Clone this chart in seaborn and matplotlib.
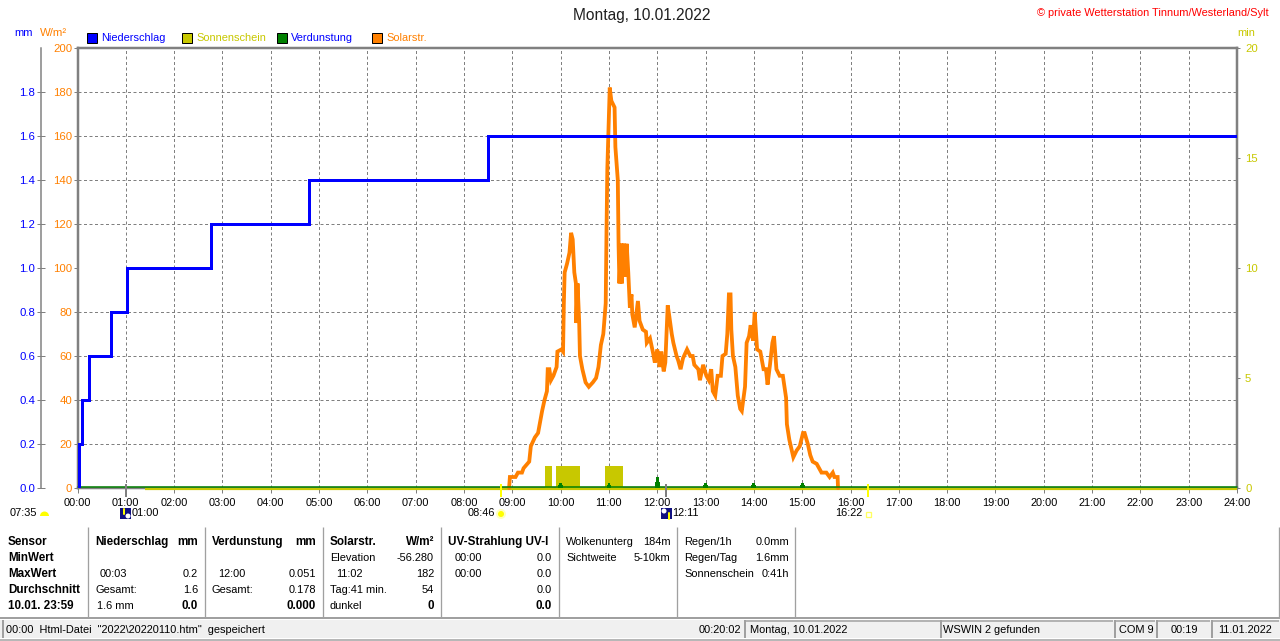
import matplotlib
matplotlib.use('Agg')
import matplotlib.pyplot as plt
from matplotlib.patches import Rectangle, Circle, Wedge
from matplotlib.transforms import ScaledTranslation
import seaborn as sns

# all times are minutes after midnight
hour_labels = [f'{h:02d}:00' for h in range(25)]
solar_ticks = [0, 20, 40, 60, 80, 100, 120, 140, 160, 180, 200]
rain_ticks = [0.0, 0.2, 0.4, 0.6, 0.8, 1.0, 1.2, 1.4, 1.6, 1.8]
sun_ticks = [0, 5, 10, 15, 20]

rain_time = [0, 2, 6, 14, 42, 62, 166, 287, 510, 1440]
rain_mm = [0.0, 0.2, 0.4, 0.6, 0.8, 1.0, 1.2, 1.4, 1.6, 1.6]

solar_time = [536, 537, 544, 547, 552, 554, 561, 563, 568, 572, 574, 577, 580, 583, 584, 586,
              588, 591, 595, 596, 601, 603, 604, 605, 608, 611, 613, 615, 617, 619, 619.5, 621,
              623, 624, 627, 631, 635, 640, 644, 647, 650, 653, 656, 657, 658, 660, 661, 663,
              667, 668, 671, 672, 673, 675, 676, 677, 678, 679, 681, 682, 684, 686, 688, 689,
              692, 696, 698, 702,
              706, 707, 711, 715, 717, 720, 723, 725, 728, 730, 733, 735, 738, 740, 744, 746,
              749, 752, 757, 761, 764, 766, 771, 773, 777, 781, 784, 787, 789, 792, 795, 799,
              801, 805, 807, 809, 811, 812, 814, 817, 820, 823, 825, 829, 831, 834, 836, 839,
              841, 844, 848, 852, 855, 857, 860, 863, 865, 868, 872, 876, 880, 881, 884, 889,
              893, 897, 901, 903, 907, 910, 913, 918, 924, 930, 934, 938, 940, 944, 944.5]
solar_wm2 = [0, 5, 5, 7, 7, 9, 12, 19, 23, 25, 29, 35, 40, 44, 54, 54,
             49, 51, 55, 62, 63, 62, 84, 98, 102, 107, 116, 113, 98, 93, 75, 93,
             76, 60, 54, 48, 46, 48, 50, 55, 65, 70, 84, 117, 145, 170, 182, 176,
             173, 155, 140, 110, 93, 111, 93, 111, 96, 111, 96, 111, 98, 82, 88, 79,
             73, 85, 76, 72,
             71, 66, 68, 61, 57, 63, 55, 62, 53, 57, 83, 78, 70, 66, 60, 58,
             54, 59, 63, 60, 60, 56, 54, 49, 56, 51, 49, 54, 44, 42, 51, 51,
             60, 61, 70, 88, 88, 72, 60, 55, 42, 36, 35, 46, 66, 69, 74, 67,
             80, 63, 62, 54, 54, 47, 56, 66, 69, 54, 51, 51, 41, 29, 22, 14,
             17, 19, 25, 25, 20, 15, 12, 11, 7, 7, 5, 7, 5, 5, 0]

sun_start = [580, 594, 655]
sun_end = [589, 624, 678]
sun_minutes = [1, 1, 1]
sun_base_time = [84, 1440]
sun_base = [0, 0]

evap_time = [600, 660, 720, 780, 840, 900]
evap_mm = [0.025, 0.025, 0.051, 0.025, 0.025, 0.025]
evap_base_time = [0, 1440]
evap_base = [0, 0]

# sunrise/sunset and moon marks below the axis
sun_marks = [526, 982]
moon_marks = [60, 731]

sensor_rows = ['Sensor', 'MinWert', 'MaxWert', 'Durchschnitt', '10.01. 23:59']

BLUE = '#0000FF'
OLIVE = '#C8C800'
GREEN = '#008000'
ORANGE = '#FF8000'
GREY = '#808080'
W, H = 1280, 641
px = 0.72  # one pixel in points at dpi 100
FS = 7.9
BOLD = 8.4
TICK = 8.2

sns.set_theme(style='white', rc={'font.size': FS})
plt.rcParams['font.family'] = ['Liberation Sans', 'DejaVu Sans']

fig = plt.figure(figsize=(12.8, 6.41), dpi=100, facecolor='white')
rect = [77.5 / W, (H - 488) / H, (1237 - 77.5) / W, 440 / H]

ax_sun = fig.add_axes(rect, zorder=1)
ax = fig.add_axes(rect, zorder=2, sharex=ax_sun)
ax_rain = fig.add_axes(rect, zorder=3, sharex=ax_sun)
for a in (ax, ax_rain):
    a.patch.set_visible(False)

# sunshine minutes, olive, right axis
ax_sun.bar(sun_start, sun_minutes, width=[e - s for s, e in zip(sun_start, sun_end)],
           align='edge', color=OLIVE, linewidth=0, zorder=3)
sns.lineplot(x=sun_base_time, y=sun_base, color=OLIVE, linewidth=2.2 * px, ax=ax_sun,
             estimator=None, clip_on=False, zorder=3, solid_capstyle='butt')
ax_sun.set_xlim(0, 1440)
ax_sun.set_ylim(0, 20)
ax_sun.set_xticks(range(0, 1441, 60))
ax_sun.set_xticklabels(hour_labels, fontsize=FS, color='black')
ax_sun.set_yticks(sun_ticks)
ax_sun.set_yticks(range(0, 21, 2), minor=True)
ax_sun.yaxis.tick_right()
ax_sun.yaxis.set_label_position('right')
ax_sun.set_yticklabels(sun_ticks, fontsize=TICK, color=OLIVE)
ax_sun.tick_params(axis='y', which='major', length=3 * px, width=px, color=GREY, pad=3.6, right=True)
ax_sun.tick_params(axis='y', which='minor', length=0)
ax_sun.tick_params(axis='x', length=5 * px, width=px, color=GREY, pad=3.6, bottom=True)
ax_sun.set_axisbelow(True)
# horizontal grid follows the W/m² scale, so it sits on the minor ticks of the min axis
ax_sun.grid(True, axis='x', which='major', color=GREY, linewidth=px, linestyle=(0, (3, 2.5)))
ax_sun.grid(True, axis='y', which='minor', color=GREY, linewidth=px, linestyle=(0, (3, 2.5)))
ax_sun.grid(False, axis='y', which='major')
ax_sun.set_xlabel('')
ax_sun.set_ylabel('')

# solar radiation, orange
sns.lineplot(x=solar_time, y=solar_wm2, color=ORANGE, linewidth=3.8 * px, ax=ax,
             estimator=None, clip_on=False, solid_joinstyle='miter')
ax.set_ylim(0, 200)
ax.set_yticks(solar_ticks)
ax.set_yticklabels(solar_ticks, fontsize=TICK, color=ORANGE)
ax.tick_params(axis='y', length=4 * px, width=px, color=GREY, pad=1, left=True)
ax.tick_params(axis='x', bottom=False, labelbottom=False)
ax.set_xlabel('')
ax.set_ylabel('')
ax.grid(False)

# precipitation and evaporation on the mm axis
ax_rain.spines['left'].set_position(('outward', 37 * px))
sns.lineplot(x=evap_base_time, y=evap_base, color=GREEN, linewidth=1.5 * px, ax=ax_rain,
             estimator=None, clip_on=False, zorder=2)
ax_rain.bar(evap_time, evap_mm, width=3.5, color=GREEN, linewidth=0, zorder=3)
ax_rain.bar(evap_time, [v * 0.5 for v in evap_mm], width=6, color=GREEN, linewidth=0, zorder=3)
sns.lineplot(x=rain_time, y=rain_mm, color=BLUE, linewidth=3 * px, ax=ax_rain, estimator=None,
             drawstyle='steps-post', zorder=4, solid_joinstyle='miter', solid_capstyle='butt')
ax_rain.set_ylim(0, 2)
ax_rain.set_yticks(rain_ticks)
ax_rain.set_yticklabels([f'{v:.1f}' for v in rain_ticks], fontsize=TICK, color=BLUE)
ax_rain.tick_params(axis='y', direction='inout', length=8 * px, width=px, color=GREY, pad=1, left=True)
ax_rain.tick_params(axis='x', bottom=False, labelbottom=False)
ax_rain.set_xlabel('')
ax_rain.set_ylabel('')
ax_rain.grid(False)

# the two base lines lie on each other at zero, green just above olive
olive_line = ax_sun.lines[-1]
olive_line.set_transform(olive_line.get_transform() + ScaledTranslation(0, -1.2 / 100, fig.dpi_scale_trans))
green_line = ax_rain.lines[0]
green_line.set_transform(green_line.get_transform() + ScaledTranslation(0, 0.6 / 100, fig.dpi_scale_trans))

for side, spine in ax_rain.spines.items():
    spine.set_visible(side == 'left')
    spine.set_color(GREY)
    spine.set_linewidth(1.5 * px)
for spine in ax.spines.values():
    spine.set_visible(False)
for side, spine in ax_sun.spines.items():
    spine.set_color(GREY)
    spine.set_linewidth(2.5 * px)

# overlay in pixel coordinates for the program chrome round the chart
ov = fig.add_axes([0, 0, 1, 1], zorder=5)
ov.set_xlim(0, W)
ov.set_ylim(H, 0)
ov.axis('off')


def txt(x, y, s, color='black', ha='left', weight='normal', size=FS):
    ov.text(x, y, s, color=color, ha=ha, va='center', fontweight=weight, fontsize=size)


txt(642, 15.5, 'Montag, 10.01.2022', color='#202020', ha='center', size=11.2)
txt(1269, 12.5, '© private Wetterstation Tinnum/Westerland/Sylt', color='#FF0000', ha='right', size=7.9)
txt(14, 33.5, 'mm', color=BLUE)
txt(40, 33.5, 'W/m²', color=ORANGE, size=8.2)
txt(1237, 33.5, 'min', color=OLIVE)

# legend row
legend_items = [('Niederschlag', 87, BLUE, BLUE), ('Sonnenschein', 182, OLIVE, OLIVE),
                ('Verdunstung', 277, GREEN, BLUE), ('Solarstr.', 372, ORANGE, ORANGE)]
for label, x0, box, tc in legend_items:
    ov.add_patch(Rectangle((x0, 33), 10, 10, facecolor=box, edgecolor='black', linewidth=px))
    txt(x0 + 14, 38, label, color=tc)

# rise / set markers below the axis
for m in sun_marks:
    x = 77.5 + m * (1237 - 77.5) / 1440
    ov.plot([x, x], [484, 497], color='#FFFF00', linewidth=2 * px, solid_capstyle='butt')
for m in moon_marks:
    x = 77.5 + m * (1237 - 77.5) / 1440
    ov.plot([x, x], [484, 497], color=GREY, linewidth=2 * px, solid_capstyle='butt')

txt(10, 513.5, '07:35')
ov.add_patch(Wedge((44.5, 516), 4.5, 180, 360, facecolor='#FFFF00', edgecolor='none'))
txt(132, 513.5, '01:00')
txt(468, 513.5, '08:46')
ov.add_patch(Circle((501, 514), 5, facecolor='#FFFFC0', edgecolor='none'))
ov.add_patch(Circle((501, 514), 3, facecolor='#FFFF00', edgecolor='none'))
txt(672, 513.5, '12:11')
txt(835, 513.5, '16:22')
ov.add_patch(Rectangle((866, 512), 4.5, 4.5, facecolor='white', edgecolor='#FFFF60', linewidth=1.3 * px))
for x0, up in ((120, True), (661, False)):
    ov.add_patch(Rectangle((x0, 508), 11, 11, facecolor='#101080', edgecolor='none'))
    ov.add_patch(Circle((x0 + (8 if up else 3), 516 if up else 511), 2.5, facecolor='white', edgecolor='none'))
    ov.plot([x0 + (4 if up else 8)] * 2, [509, 514] if up else [513, 519], color='#FFFF00', linewidth=2 * px)

# table under the chart
row_y = [542, 558, 574, 590, 606]
for x in (88, 205, 323, 441, 559, 677, 795, 1279):
    ov.plot([x, x], [527, 617], color='#A0A0A0', linewidth=1.3 * px, solid_capstyle='butt')
for y, s in zip(row_y, sensor_rows):
    txt(8, y, s, weight='bold', size=BOLD)

txt(95, row_y[0], 'Niederschlag', weight='bold', size=BOLD)
txt(198, row_y[0], 'mm', weight='bold', ha='right', size=BOLD)
txt(100, row_y[2], '00:03')
txt(198, row_y[2], '0.2', ha='right')
txt(95, row_y[3], 'Gesamt:')
txt(198, row_y[3], '1.6', ha='right')
txt(97, row_y[4], '1.6 mm')
txt(198, row_y[4], '0.0', weight='bold', ha='right', size=BOLD)

txt(212, row_y[0], 'Verdunstung', weight='bold', size=BOLD)
txt(316, row_y[0], 'mm', weight='bold', ha='right', size=BOLD)
txt(218, row_y[2], '12:00')
txt(316, row_y[2], '0.051', ha='right')
txt(212, row_y[3], 'Gesamt:')
txt(316, row_y[3], '0.178', ha='right')
txt(316, row_y[4], '0.000', weight='bold', ha='right', size=BOLD)

txt(330, row_y[0], 'Solarstr.', weight='bold', size=BOLD)
txt(434, row_y[0], 'W/m²', weight='bold', ha='right', size=BOLD)
txt(330, row_y[1], 'Elevation')
txt(434, row_y[1], '-56.280', ha='right')
txt(336, row_y[2], '11:02')
txt(434, row_y[2], '182', ha='right')
txt(330, row_y[3], 'Tag:41 min.')
txt(434, row_y[3], '54', ha='right')
txt(330, row_y[4], 'dunkel')
txt(434, row_y[4], '0', weight='bold', ha='right', size=BOLD)

txt(448, row_y[0], 'UV-Strahlung UV-I', weight='bold', size=BOLD)
txt(455, row_y[1], '00:00')
txt(552, row_y[1], '0.0', ha='right')
txt(455, row_y[2], '00:00')
txt(552, row_y[2], '0.0', ha='right')
txt(552, row_y[3], '0.0', ha='right')
txt(552, row_y[4], '0.0', weight='bold', ha='right', size=BOLD)

txt(566, row_y[0], 'Wolkenunterg')
txt(671, row_y[0], '184m', ha='right')
txt(566, row_y[1], 'Sichtweite')
txt(670, row_y[1], '5-10km', ha='right')

txt(684, row_y[0], 'Regen/1h')
txt(789, row_y[0], '0.0mm', ha='right')
txt(684, row_y[1], 'Regen/Tag')
txt(789, row_y[1], '1.6mm', ha='right')
txt(684, row_y[2], 'Sonnenschein')
txt(789, row_y[2], '0:41h', ha='right')

# status bar
ov.add_patch(Rectangle((0, 620), W, 18, facecolor='#F0F0F0', edgecolor='none'))
ov.plot([0, W], [618, 618], color='#A0A0A0', linewidth=2 * px, solid_capstyle='butt')
ov.plot([0, W], [640, 640], color='#A0A0A0', linewidth=1.5 * px, solid_capstyle='butt')
for x in (2.5, 745, 941, 1115, 1157, 1212):
    ov.plot([x, x], [620, 638], color='#A0A0A0', linewidth=2 * px, solid_capstyle='butt')
for x0, x1 in ((745, 940), (941, 1113), (1115, 1155), (1157, 1210), (1212, 1279)):
    ov.plot([x0, x1], [621, 621], color='#A0A0A0', linewidth=1.5 * px, solid_capstyle='butt')
txt(6, 630, '00:00  Html-Datei  "2022\\20220110.htm"  gespeichert')
txt(741, 630, '00:20:02', ha='right')
txt(750, 630, 'Montag, 10.01.2022')
txt(943, 630, 'WSWIN 2 gefunden')
txt(1119, 630, 'COM 9')
txt(1184, 630, '00:19', ha='center')
txt(1218, 630, '11.01.2022')

fig.savefig('out.png', dpi=100)
